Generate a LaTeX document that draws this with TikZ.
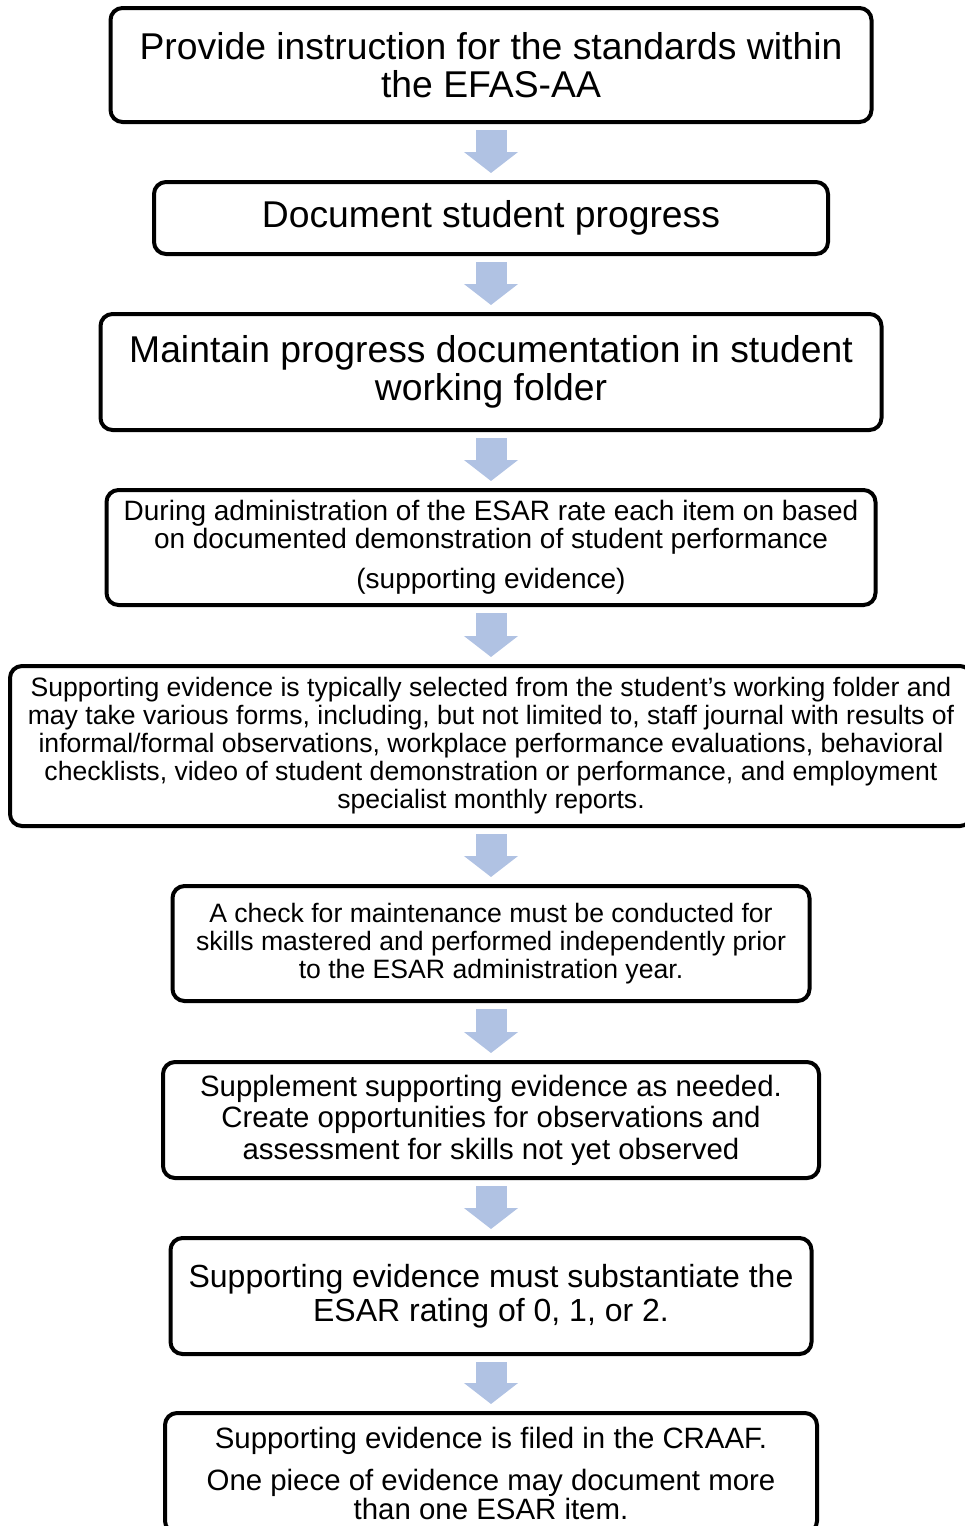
\documentclass[tikz,border=0pt]{standalone}
\usepackage{fontspec}
\setmainfont{Liberation Sans}
\usetikzlibrary{arrows.meta}
\definecolor{flowblue}{RGB}{176,194,227}
\newcommand{\fs}[2]{\fontsize{#1}{#2}\selectfont}

\begin{document}
\begin{tikzpicture}[x=1pt,y=-1pt]
  \def\cx{491}
  \tikzset{stepbox/.style={draw,line width=4pt,rounded corners=12pt,align=center,inner sep=0pt}}
  \tikzset{flow/.style={-{Triangle[length=21pt,width=53pt]},line width=31pt,flowblue,shorten <=6pt,shorten >=7pt}}
  \useasboundingbox (0,0) rectangle (964,1526);
  \node[stepbox,minimum width=761pt,minimum height=114pt,font=\fs{37.3}{38}] (instruct) at (\cx,65) {Provide instruction for the standards within\\the EFAS-AA};
  \node[stepbox,minimum width=674pt,minimum height=72pt,font=\fs{37.3}{38}] (document) at (\cx,218) {Document student progress};
  \node[stepbox,minimum width=781pt,minimum height=116pt,font=\fs{37.3}{38}] (maintain) at (\cx,372) {Maintain progress documentation in student\\working folder};
  \node[stepbox,minimum width=769pt,minimum height=115pt,font=\fs{28}{28}] (rate) at (\cx,547.5) {During administration of the ESAR rate each item on based\\on documented demonstration of student performance\\[12pt](supporting evidence)};
  \node[stepbox,minimum width=962pt,minimum height=160pt,font=\fs{26.6}{28}] (evidence) at (\cx,746) {Supporting evidence is typically selected from the student’s working folder and\\may take various forms, including, but not limited to, staff journal with results of\\informal/formal observations, workplace performance evaluations, behavioral\\checklists, video of student demonstration or performance, and employment\\specialist monthly reports.};
  \node[stepbox,minimum width=637pt,minimum height=115pt,font=\fs{26.6}{28}] (check) at (\cx,943.5) {A check for maintenance must be conducted for\\skills mastered and performed independently prior\\to the ESAR administration year.};
  \node[stepbox,minimum width=656pt,minimum height=116pt,font=\fs{29.4}{31.5}] (supplement) at (\cx,1120) {Supplement supporting evidence as needed.\\Create opportunities for observations and\\assessment for skills not yet observed};
  \node[stepbox,minimum width=641pt,minimum height=116pt,font=\fs{32}{34}] (substantiate) at (\cx,1296) {Supporting evidence must substantiate the\\ESAR rating of 0, 1, or 2.};
  \node[stepbox,minimum width=652pt,minimum height=120pt,font=\fs{29.4}{29}] (filed) at (\cx,1473) {Supporting evidence is filed in the CRAAF.\\[13pt]One piece of evidence may document more\\than one ESAR item.};
  \draw[flow] (instruct) -- (document);
  \draw[flow] (document) -- (maintain);
  \draw[flow] (maintain) -- (rate);
  \draw[flow] (rate) -- (evidence);
  \draw[flow] (evidence) -- (check);
  \draw[flow] (check) -- (supplement);
  \draw[flow] (supplement) -- (substantiate);
  \draw[flow] (substantiate) -- (filed);
\end{tikzpicture}
\end{document}
